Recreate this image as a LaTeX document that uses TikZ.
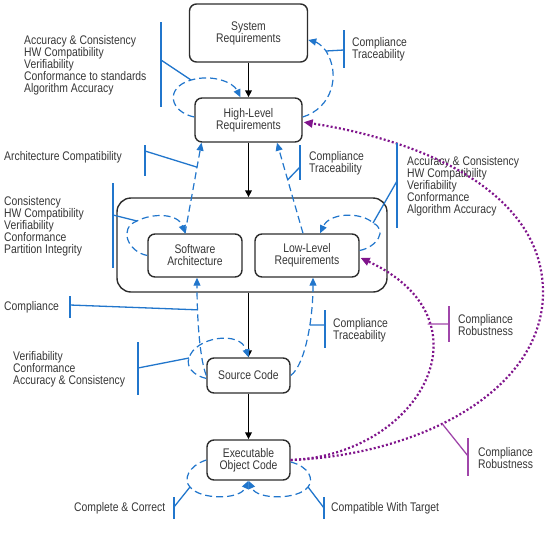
\documentclass[tikz,border=0pt]{standalone}
\usepackage{fontspec}
\setmainfont[FakeStretch=0.83]{Liberation Sans}
\usetikzlibrary{arrows.meta}
\definecolor{lblue}{RGB}{33,118,204}
\definecolor{lpurp}{RGB}{128,20,140}
\definecolor{bpurp}{RGB}{160,70,170}
\definecolor{txt}{RGB}{55,55,55}
\definecolor{edge}{RGB}{45,45,45}
\begin{document}
\begin{tikzpicture}[x=1pt,y=-1pt,
  font=\fontsize{12.5}{12}\selectfont,
  box/.style={draw=edge, fill=white, line width=1.4pt, rounded corners=7pt, text=txt, align=center, inner sep=0pt},
  contbox/.style={draw=edge, line width=1.4pt, rounded corners=14pt, minimum width=270pt, minimum height=94pt, inner sep=0pt},
  lbl/.style={anchor=west, align=left, text=txt, inner sep=0pt},
  flow/.style={draw=black, line width=1.8pt, -{Triangle[length=7pt,width=6.5pt]}},
  bdash/.style={draw=lblue, line width=1.2pt, dash pattern=on 7pt off 4pt, -{Triangle[length=8pt,width=7pt]}},
  bar/.style={draw=lblue, line width=1.3pt},
  pbar/.style={draw=bpurp, line width=1.3pt},
  pdot/.style={draw=lpurp, line width=2.2pt, dash pattern=on 2pt off 2.2pt, -{Triangle[length=9pt,width=8pt]}, shorten >=1pt},
]
\fill[white] (0,0) rectangle (549,558);
\useasboundingbox (0,0) rectangle (549,558);

% boxes
\node[contbox] (cont) at (252,245) {};
\node[box, minimum width=118pt, minimum height=58pt] (sys) at (248.5,33) {System\\Requirements};
\node[box, minimum width=107pt, minimum height=44pt] (hlr) at (248.5,120) {High-Level\\Requirements};
\node[box, minimum width=94pt, minimum height=43pt] (sa) at (195,255.5) {Software\\Architecture};
\node[box, minimum width=104pt, minimum height=43pt] (llr) at (307,255.5) {Low-Level\\Requirements};
\node[box, minimum width=83pt, minimum height=35pt] (src) at (248.5,375.5) {Source Code};
\node[box, minimum width=83pt, minimum height=40pt] (eoc) at (248.5,460) {Executable\\Object Code};

% main flow
\draw[flow] (sys.south) -- (hlr.north);
\draw[flow] (hlr.south) -- (hlr.south |- cont.north);
\draw[flow] (src.north |- cont.south) -- (src.north);
\draw[flow] (src.south) -- (eoc.north);

% labels
\node[lbl] (tA) at (24,65) {Accuracy \& Consistency\\HW Compatibility\\Verifiability\\Conformance to standards\\Algorithm Accuracy};
\node[lbl] (tB) at (352,49) {Compliance\\Traceability};
\node[lbl] (tC) at (4,157) {Architecture Compatibility};
\node[lbl] (tD) at (4,226) {Consistency\\HW Compatibility\\Verifiability\\Conformance\\Partition Integrity};
\node[lbl] (tE) at (309,163) {Compliance\\Traceability};
\node[lbl] (tF) at (407,186) {Accuracy \& Consistency\\HW Compatibility\\Verifiability\\Conformance\\Algorithm Accuracy};
\node[lbl] (tG) at (4,307) {Compliance};
\node[lbl] (tH) at (333,330) {Compliance\\Traceability};
\node[lbl] (tI) at (13,369) {Verifiability\\Conformance\\Accuracy \& Consistency};
\node[lbl] (tJ) at (74,508) {Complete \& Correct};
\node[lbl] (tK) at (331,508) {Compatible With Target};
\node[lbl] (tP) at (458,325) {Compliance\\Robustness};
\node[lbl] (tQ) at (478,458) {Compliance\\Robustness};

% blue dashed review paths
\draw[bdash] ([yshift=3pt]hlr.west) .. controls (170,112) and (164,88) .. (191,80) coordinate (la)
   .. controls (212,74) and (233,82) .. ([xshift=-8pt]hlr.north);
\draw[bdash] ([yshift=3pt]hlr.east) .. controls (332,108) and (341,75) .. (326,51) coordinate (lb)
   .. controls (322,45) and (316,42) .. ([yshift=-7pt]sys.east);
\draw[bdash] ([xshift=-10pt]sa.north) -- coordinate[pos=0.73] (lc) ([xshift=-47pt]hlr.south);
\draw[bdash] (sa.west) .. controls (128,252) and (118,228) .. (137,221) coordinate (ld)
   .. controls (152,213) and (178,213) .. ([xshift=-10pt]sa.north);
\draw[bdash] ([xshift=-4pt]llr.north) -- coordinate[pos=0.59] (le) ([xshift=28.5pt]hlr.south);
\draw[bdash] ([yshift=5pt]llr.east) .. controls (377,247) and (388,230) .. (373,223) coordinate (lf)
   .. controls (362,212) and (330,212) .. ([xshift=13pt]llr.north);
\draw[bdash] (src.west) .. controls (200,360) and (197,320) .. ([xshift=2pt]sa.south) coordinate[pos=0.74] (lg);
\draw[bdash] (src.east) .. controls (305,365) and (313,320) .. ([xshift=6pt]llr.south) coordinate[pos=0.62] (lh);
\draw[bdash] ([yshift=-3pt]src.west) .. controls (192,375) and (186,366) .. (189,358) coordinate (li)
   .. controls (195,337) and (240,330) .. (src.north);
\draw[bdash] (eoc.west) .. controls (188,466) and (183,480) .. (190,487) coordinate (lj)
   .. controls (200,500) and (240,500) .. (eoc.south);
\draw[bdash] ([yshift=-2pt]eoc.east) .. controls (310,467) and (314,480) .. (308,487) coordinate (lk)
   .. controls (298,500) and (257,500) .. (eoc.south);

% purple dotted paths
\draw[pdot] (eoc.east) .. controls (420,455) and (495,320) .. ([yshift=-2pt]llr.east) coordinate[pos=0.715] (lp);
\draw[pdot] (eoc.east) .. controls (420,455) and (545,390) .. (543,290) coordinate[pos=0.42] (lq)
   .. controls (541,190) and (420,140) .. ([yshift=-2pt]hlr.east);

% bars and their links
\draw[bar] (161,22) -- (161,107);   \coordinate (ba) at (161,60);  \draw[bar] (ba) -- (la);
\draw[bar] (344,30) -- (344,68);    \coordinate (bb) at (344,50);  \draw[bar] (bb) -- (lb);
\draw[bar] (145,145) -- (145,176);  \coordinate (bc) at (145,151); \draw[bar] (bc) -- (lc);
\draw[bar] (113,183) -- (113,268);  \coordinate (bd) at (113,215); \draw[bar] (bd) -- (ld);
\draw[bar] (300,145) -- (300,180);  \coordinate (be) at (300,167); \draw[bar] (be) -- (le);
\draw[bar] (397,143) -- (397,228);  \coordinate (bf) at (397,181); \draw[bar] (bf) -- (lf);
\draw[bar] (70,296) -- (70,318);    \coordinate (bg) at (70,305);  \draw[bar] (bg) -- (lg);
\draw[bar] (325,310) -- (325,348);  \coordinate (bh) at (325,325); \draw[bar] (bh) -- (lh);
\draw[bar] (138,342) -- (138,395);  \coordinate (bi) at (138,368); \draw[bar] (bi) -- (li);
\draw[bar] (174,497) -- (174,519);  \coordinate (bj) at (174,507); \draw[bar] (bj) -- (lj);
\draw[bar] (324,497) -- (324,519);  \coordinate (bk) at (324,508); \draw[bar] (bk) -- (lk);
\draw[pbar] (449,306) -- (449,342); \coordinate (bp) at (449,324); \draw[pbar] (bp) -- (lp);
\draw[pbar] (468,438) -- (468,476); \coordinate (bq) at (468,456); \draw[pbar] (bq) -- (lq);
\end{tikzpicture}
\end{document}
